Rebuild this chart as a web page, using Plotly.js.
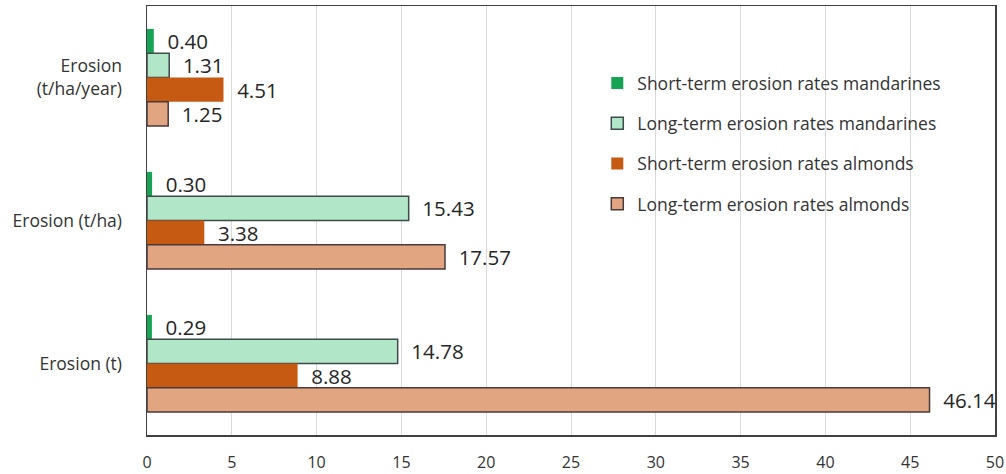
<!DOCTYPE html>
<html>
<head>
<meta charset="utf-8">
<script src="https://cdn.plot.ly/plotly-3.0.1.min.js"></script>
<style>html,body{margin:0;padding:0;background:#fff;}#chart{width:1006px;height:474px;}</style>
</head>
<body>
<div id="chart"></div>
<script>
const categories = ["Erosion<br>(t/ha/year)", "Erosion (t/ha)", "Erosion (t)"];
const seriesNames = [
  "Short-term erosion rates mandarines",
  "Long-term erosion rates mandarines",
  "Short-term erosion rates almonds",
  "Long-term erosion rates almonds"
];
const shortMandarines = [0.40, 0.30, 0.29];
const longMandarines = [1.31, 15.43, 14.78];
const shortAlmonds = [4.51, 3.38, 8.88];
const longAlmonds = [1.25, 17.57, 46.14];
const xTicks = [0, 5, 10, 15, 20, 25, 30, 35, 40, 45, 50];

const colors = ["#17a354", "#b2e6c8", "#c65a12", "#e2a582"];
const lineColors = ["rgba(0,0,0,0)", "#3f4a4a", "rgba(0,0,0,0)", "#4a3a3a"];
const lineWidths = [0, 1.5, 0, 1.5];
const values = [shortMandarines, longMandarines, shortAlmonds, longAlmonds];

const traces = values.map((v, i) => ({
  type: "bar",
  orientation: "h",
  name: seriesNames[i],
  legendgroup: "g" + i,
  y: categories,
  x: v,
  marker: {color: colors[i], line: {color: lineColors[i], width: lineWidths[i]}},
  texttemplate: "\u00a0\u00a0%{x:.2f}",
  textposition: "outside",
  constraintext: "none",
  cliponaxis: false,
  textfont: {family: "Open Sans, sans-serif", size: 20.5, color: "#262626"},
  hoverinfo: "x+name"
}));

const layout = {
  width: 1006, height: 474,
  margin: {l: 147, r: 11, t: 6, b: 39},
  paper_bgcolor: "#fff", plot_bgcolor: "#fff",
  barmode: "group",
  bargap: 0.32,
  bargroupgap: 0,
  font: {family: "Open Sans, sans-serif", size: 16, color: "#333"},
  xaxis: {
    range: [0, 50], tickvals: xTicks, ticktext: xTicks.map(String),
    showgrid: true, gridcolor: "#d9d9d9", gridwidth: 1,
    zeroline: false, showline: true, linecolor: "#404040", linewidth: 1.5, mirror: true,
    ticks: "", tickfont: {size: 16, color: "#333"}, ticklabelstandoff: 12
  },
  yaxis: {
    type: "category", autorange: "reversed",
    showgrid: false, zeroline: false, showline: true, linecolor: "#404040", linewidth: 1.5, mirror: true,
    ticks: "", tickfont: {size: 17.5, color: "#333"}, ticklabelstandoff: 20
  },
  legend: {
    x: 0.531, y: 0.862, xanchor: "left", yanchor: "top",
    bgcolor: "rgba(255,255,255,0)", traceorder: "grouped",
    font: {size: 17.5, color: "#333"}, tracegroupgap: 14.5, itemwidth: 30
  },
  showlegend: true
};

Plotly.newPlot("chart", traces, layout, {displayModeBar: false, staticPlot: true});
</script>
</body>
</html>
